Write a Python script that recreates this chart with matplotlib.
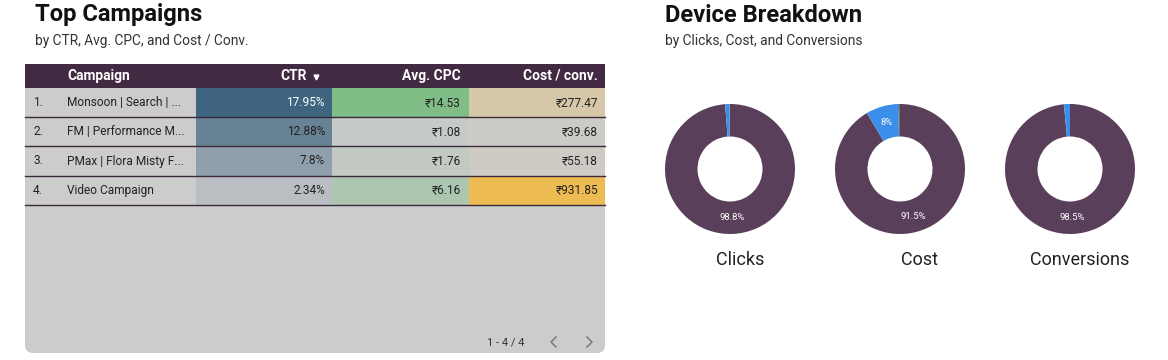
import numpy as np
import matplotlib.pyplot as plt
from matplotlib.patches import Rectangle, FancyBboxPatch
from matplotlib.colors import to_rgb

plt.rcParams['font.family'] = ['Roboto', 'DejaVu Sans']

# data for the table
campaigns = ["Monsoon | Search | ...", "FM | Performance M...", "PMax | Flora Misty F...", "Video Campaign"]
ctr = [17.95, 12.88, 7.8, 2.34]
avg_cpc = [14.53, 1.08, 1.76, 6.16]
cost_conv = [277.47, 39.68, 55.18, 931.85]

# data for the donuts
donut_names = ["Clicks", "Cost", "Conversions"]
clicks_share = [98.8, 1.1, 0.1]
cost_share = [91.5, 8.0, 0.5]
conv_share = [98.5, 1.5, 0.0]

W, H = 1168, 360
fig = plt.figure(figsize=(W / 100, H / 100), dpi=100)
ax = fig.add_axes([0, 0, 1, 1])
ax.set_xlim(0, W)
ax.set_ylim(H, 0)
ax.axis('off')

bg = '#cccccc'
header_col = '#422a42'
line_col = '#3b2a3b'


def heat(v, vmax, top):
    # blend from the table background to full colour
    t = v / vmax
    a = np.array(to_rgb(bg))
    b = np.array(to_rgb(top))
    return tuple(a + (b - a) * t)


# titles
ax.text(35, 15, "Top Campaigns", fontsize=17.1, fontweight='bold', color='#111111', va='center')
ax.text(35, 41, "by CTR, Avg. CPC, and Cost / Conv.", fontsize=9.9, color='#333333', va='center')
ax.text(665, 15, "Device Breakdown", fontsize=17.1, fontweight='bold', color='#111111', va='center')
ax.text(665, 41, "by Clicks, Cost, and Conversions", fontsize=9.9, color='#333333', va='center')

# table box
x0, x1 = 25, 605
top, bottom = 64, 353
ax.add_patch(FancyBboxPatch((x0, top), x1 - x0, bottom - top,
                            boxstyle="round,pad=0,rounding_size=8",
                            fc=bg, ec='none'))
ax.add_patch(Rectangle((x0, top), x1 - x0, 24, fc=header_col, ec='none'))

col_edges = [25, 196, 332, 469, 605]
row_h = 29.2
row0 = 88

hdr_y = top + 12
hfs = 9.9
ax.text(67, hdr_y, "Campaign", color='white', fontsize=hfs, fontweight='bold', va='center')
ax.text(307, hdr_y, "CTR", color='white', fontsize=hfs, fontweight='bold', va='center', ha='right')
ax.plot([316], [hdr_y + 0.5], marker='v', color='white', markersize=3.5)
ax.text(461, hdr_y, "Avg. CPC", color='white', fontsize=hfs, fontweight='bold', va='center', ha='right')
ax.text(598, hdr_y, "Cost / conv.", color='white', fontsize=hfs, fontweight='bold', va='center', ha='right')

for i in range(len(campaigns)):
    y = row0 + i * row_h
    cols = [heat(ctr[i], max(ctr), '#3f6480'),
            heat(avg_cpc[i], max(avg_cpc), '#81bd87'),
            heat(cost_conv[i], max(cost_conv), '#ecbb52')]
    for j, c in enumerate(cols):
        ax.add_patch(Rectangle((col_edges[j + 1], y), col_edges[j + 2] - col_edges[j + 1], row_h,
                               fc=c, ec='none'))
    yc = y + row_h / 2
    txt_col = '#222222'
    ax.text(33, yc, f"{i + 1}.", fontsize=8.6, color=txt_col, va='center')
    ax.text(67, yc, campaigns[i], fontsize=8.6, color=txt_col, va='center')
    ax.text(325, yc, f"{ctr[i]:g}%", fontsize=8.6, color='white' if i == 0 else txt_col,
            va='center', ha='right')
    ax.text(461, yc, f"₹{avg_cpc[i]:.2f}", fontsize=8.6, color=txt_col, va='center', ha='right')
    ax.text(598, yc, f"₹{cost_conv[i]:.2f}", fontsize=8.6, color=txt_col, va='center', ha='right')
    ax.plot([x0, x1], [y + row_h, y + row_h], color=line_col, lw=1)

# pagination
ax.text(506, 342, "1 - 4 / 4", fontsize=8, color='#333333', va='center', ha='center')
ax.plot([556, 551, 556], [337, 342, 347], color='#7a7a7a', lw=1.1)
ax.plot([587, 592, 587], [337, 342, 347], color='#7a7a7a', lw=1.1)

# donuts
pie_cols = ['#5a3f5a', '#3b8eea', '#65767d']
centers = [730, 900, 1070]
label_x = [740, 920, 1080]
r = 65
cy = 169
for k, vals in enumerate([clicks_share, cost_share, conv_share]):
    cx = centers[k]
    pax = fig.add_axes([(cx - r) / W, (H - cy - r) / H, 2 * r / W, 2 * r / H])
    wedges, _ = pax.pie(vals, colors=pie_cols, startangle=90, counterclock=False,
                        radius=1, wedgeprops=dict(width=0.5, linewidth=0))
    # percentage labels for the larger slices
    cum = 0
    for v in vals:
        if v >= 5:
            ang = np.deg2rad(90 - (cum + v / 2) / 100 * 360)
            pax.text(0.75 * np.cos(ang), 0.75 * np.sin(ang), f"{v:g}%",
                     ha='center', va='center', color='white', fontsize=6.8)
        cum += v
    pax.set_xlim(-1, 1)
    pax.set_ylim(-1, 1)
    pax.set_aspect('equal')
    ax.text(label_x[k], 260, donut_names[k], fontsize=13, color='#222222', ha='center', va='center')

fig.savefig('out.png', dpi=100)
